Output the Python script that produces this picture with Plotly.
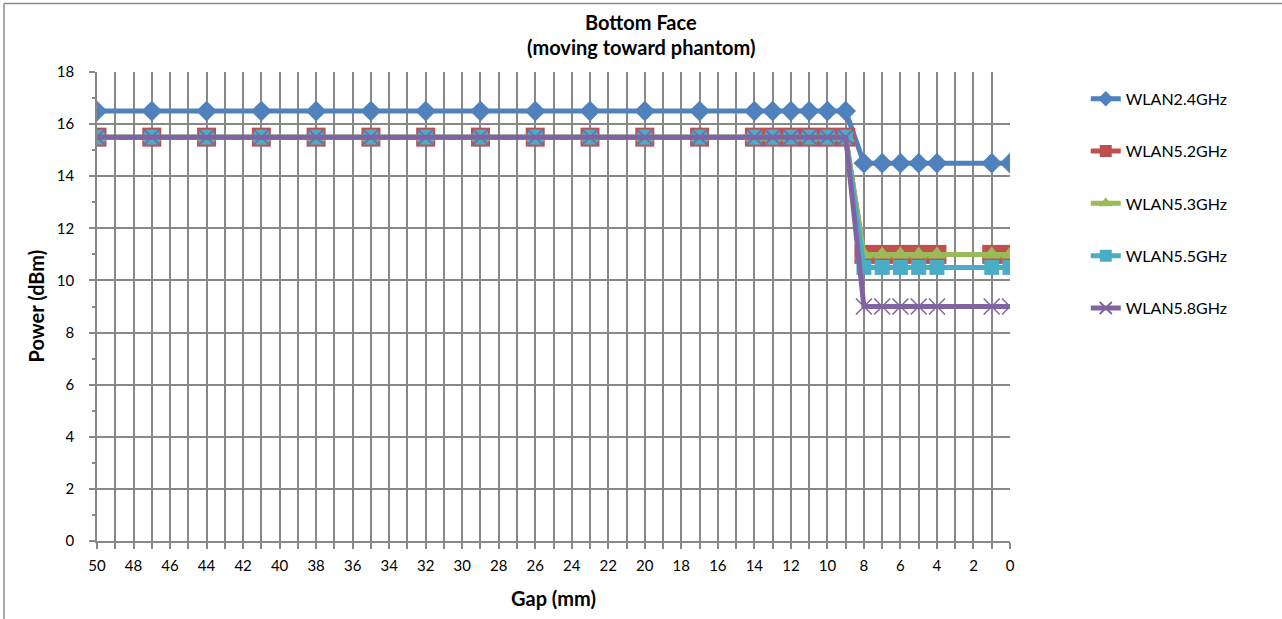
import plotly.graph_objects as go

gap = [50, 47, 44, 41, 38, 35, 32, 29, 26, 23, 20, 17, 14, 13, 12, 11, 10, 9, 8, 7, 6, 5, 4, 1, 0]
wlan24 = [16.5, 16.5, 16.5, 16.5, 16.5, 16.5, 16.5, 16.5, 16.5, 16.5, 16.5, 16.5, 16.5, 16.5, 16.5, 16.5, 16.5, 16.5,
          14.5, 14.5, 14.5, 14.5, 14.5, 14.5, 14.5]
wlan52 = [15.5, 15.5, 15.5, 15.5, 15.5, 15.5, 15.5, 15.5, 15.5, 15.5, 15.5, 15.5, 15.5, 15.5, 15.5, 15.5, 15.5, 15.5,
          11, 11, 11, 11, 11, 11, 11]
wlan53 = [15.5, 15.5, 15.5, 15.5, 15.5, 15.5, 15.5, 15.5, 15.5, 15.5, 15.5, 15.5, 15.5, 15.5, 15.5, 15.5, 15.5, 15.5,
          11, 11, 11, 11, 11, 11, 11]
wlan55 = [15.5, 15.5, 15.5, 15.5, 15.5, 15.5, 15.5, 15.5, 15.5, 15.5, 15.5, 15.5, 15.5, 15.5, 15.5, 15.5, 15.5, 15.5,
          10.5, 10.5, 10.5, 10.5, 10.5, 10.5, 10.5]
wlan58 = [15.5, 15.5, 15.5, 15.5, 15.5, 15.5, 15.5, 15.5, 15.5, 15.5, 15.5, 15.5, 15.5, 15.5, 15.5, 15.5, 15.5, 15.5,
          9, 9, 9, 9, 9, 9, 9]

title_lines = ["Bottom Face", "(moving toward phantom)"]
x_title = "Gap (mm)"
y_title = "Power (dBm)"

series = [
    ("WLAN2.4GHz", wlan24, "#4F81BD", dict(symbol="diamond", size=16)),
    ("WLAN5.2GHz", wlan52, "#C0504D", dict(symbol="square", size=19)),
    ("WLAN5.3GHz", wlan53, "#9BBB59", dict(symbol="triangle-up", size=16)),
    ("WLAN5.5GHz", wlan55, "#4BACC6", dict(symbol="square", size=15)),
    ("WLAN5.8GHz", wlan58, "#8064A2", dict(symbol="x-thin", size=16)),
]

FONT = "Lato, 'Open Sans', sans-serif"
fig = go.Figure()
for name, ys, col, mk in series:
    m = dict(color=col, **mk)
    if mk["symbol"] == "x-thin":
        m["line"] = dict(color=col, width=1.5)
    fig.add_trace(go.Scatter(
        x=gap, y=ys, name=name, mode="lines+markers",
        line=dict(color=col, width=5), marker=m, legendgroup=name,
    ))

grid = "#888888"
TFS = 20
annotations = [
    dict(text="<b>%s</b>" % title_lines[0], xref="paper", yref="paper", x=(641 - 97) / 913, y=(541 - 22) / 469,
         xanchor="center", yanchor="middle", showarrow=False, font=dict(family=FONT, size=TFS)),
    dict(text="<b>%s</b>" % title_lines[1], xref="paper", yref="paper", x=(641 - 97) / 913, y=(541 - 47) / 469,
         xanchor="center", yanchor="middle", showarrow=False, font=dict(family=FONT, size=TFS)),
    dict(text="<b>%s</b>" % x_title, xref="paper", yref="paper", x=0.5, y=(541 - 598) / 469,
         xanchor="center", yanchor="middle", showarrow=False, font=dict(family=FONT, size=TFS)),
    dict(text="<b>%s</b>" % y_title, xref="paper", yref="paper", x=(35 - 97) / 913, y=0.5, textangle=-90,
         xanchor="center", yanchor="middle", showarrow=False, font=dict(family=FONT, size=TFS)),
]

fig.update_layout(
    width=1282, height=619,
    margin=dict(l=97, r=272, t=72, b=78),
    paper_bgcolor="white", plot_bgcolor="white",
    font=dict(family=FONT, size=15, color="#000000"),
    showlegend=True,
    legend=dict(x=1.083, y=0.979, xanchor="left", yanchor="top", traceorder="grouped",
                tracegroupgap=28.5, font=dict(family=FONT, size=16), itemsizing="constant",
                bgcolor="rgba(0,0,0,0)"),
    xaxis=dict(range=[50, 0], dtick=2, tick0=0, showgrid=True, gridcolor=grid, gridwidth=1.5,
               ticks="outside", ticklen=6, tickcolor=grid, tickwidth=1.5, ticklabelstandoff=4,
               showline=True, linecolor=grid, linewidth=1.5, zeroline=False,
               minor=dict(dtick=1, showgrid=True, gridcolor=grid, gridwidth=1.5,
                          ticks="outside", ticklen=6, tickcolor=grid, tickwidth=1.5),
               tickfont=dict(family=FONT, size=15)),
    yaxis=dict(range=[0, 18], dtick=2, showgrid=True, gridcolor=grid, gridwidth=1.5,
               ticks="outside", ticklen=6, tickcolor=grid, tickwidth=1.5, ticklabelstandoff=12,
               showline=True, linecolor=grid, linewidth=1.5, zeroline=False,
               minor=dict(dtick=1, showgrid=False, ticks="outside", ticklen=3, tickcolor=grid),
               tickfont=dict(family=FONT, size=15)),
    annotations=annotations,
    shapes=[
        dict(type="line", xref="paper", yref="paper", x0=(4 - 97) / 913, x1=1.3, y0=(541 - 3.5) / 469,
             y1=(541 - 3.5) / 469, line=dict(color="#8c8c8c", width=1.5)),
        dict(type="line", xref="paper", yref="paper", x0=(4 - 97) / 913, x1=(4 - 97) / 913,
             y0=(541 - 3.5) / 469, y1=-0.2, line=dict(color="#8c8c8c", width=1.5)),
    ],
)
fig.write_html("out.html", post_script="document.body.style.margin='0px';",
               config={"displayModeBar": False})
